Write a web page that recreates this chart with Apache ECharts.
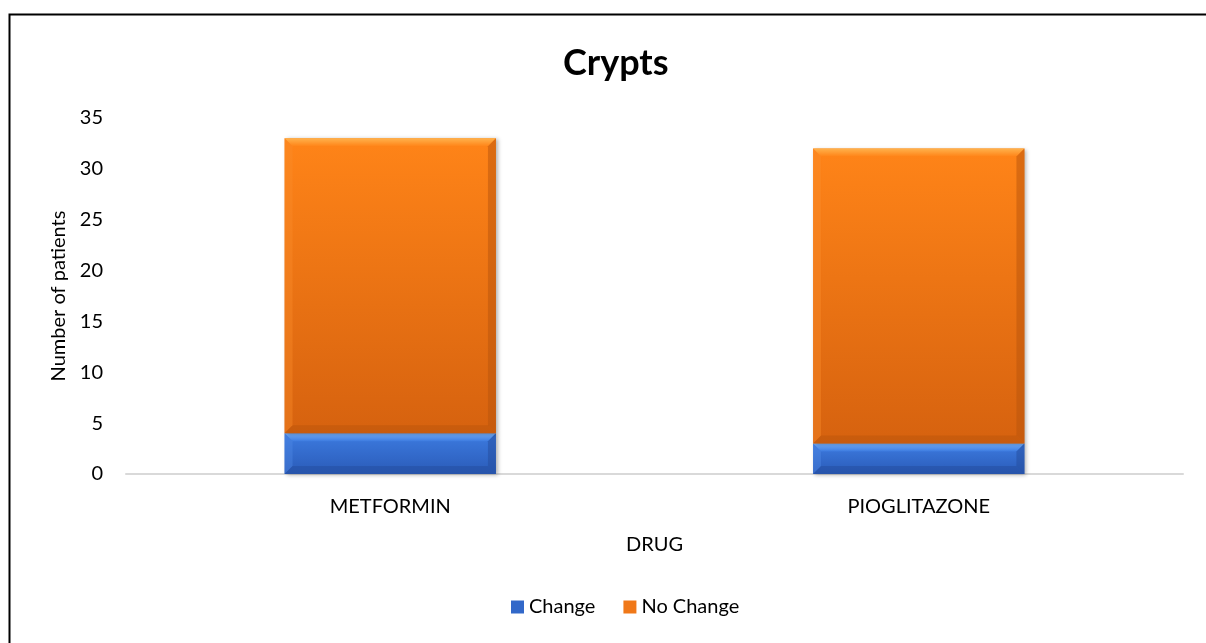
<!DOCTYPE html>
<html>
<head>
<meta charset="utf-8">
<title>Crypts</title>
<script src="https://cdn.jsdelivr.net/npm/echarts@6/dist/echarts.min.js"></script>
<style>
  html, body { margin: 0; padding: 0; background: #fff; }
  #chart { width: 1206px; height: 643px; }
</style>
</head>
<body>
<div id="chart"></div>
<script>
// Patients per drug, split by crypt outcome
const drugs = ['METFORMIN', 'PIOGLITAZONE'];
const changeCounts = [4, 3];
const noChangeCounts = [29, 29];
const yTicks = [0, 5, 10, 15, 20, 25, 30, 35];

const FONT = 'Lato, "Open Sans", sans-serif';

const palette = {
  'Change': { top: '#3d7be0', bottom: '#2a5bb8', light: '#74aef7', side: '#4f8ae6', dark: '#234c9c' },
  'No Change': { top: '#ff8418', bottom: '#d6620f', light: '#ffb24c', side: '#f98c2a', dark: '#b8540c' }
};

function grad(c1, c2) {
  return new echarts.graphic.LinearGradient(0, 0, 0, 1, [
    { offset: 0, color: c1 }, { offset: 1, color: c2 }
  ]);
}

// Bevelled bar segment drawn through the category / value axes
function bevelBar(name) {
  const p = palette[name];
  return function (params, api) {
    const cat = api.value(0);
    const lo = api.coord([cat, api.value(1)]);
    const hi = api.coord([cat, api.value(2)]);
    const w = api.size([1, 0])[0] * 0.4;
    const x0 = lo[0] - w / 2, x1 = lo[0] + w / 2;
    const y0 = hi[1], y1 = lo[1];
    const h = y1 - y0;
    const b = Math.min(8, h / 3);
    return {
      type: 'group',
      children: [
        { type: 'rect', shape: { x: x0, y: y0, width: w, height: h },
          style: { fill: grad(p.top, p.bottom), shadowBlur: 4, shadowOffsetX: 2, shadowOffsetY: 1, shadowColor: 'rgba(0,0,0,0.3)' } },
        { type: 'polygon', shape: { points: [[x0, y0], [x1, y0], [x1 - b, y0 + b], [x0 + b, y0 + b]] },
          style: { fill: grad(p.light, p.top) } },
        { type: 'polygon', shape: { points: [[x0, y0], [x0 + b, y0 + b], [x0 + b, y1 - b], [x0, y1]] },
          style: { fill: p.side, opacity: 0.4 } },
        { type: 'polygon', shape: { points: [[x1, y0], [x1, y1], [x1 - b, y1 - b], [x1 - b, y0 + b]] },
          style: { fill: p.dark, opacity: 0.5 } },
        { type: 'polygon', shape: { points: [[x0, y1], [x0 + b, y1 - b], [x1 - b, y1 - b], [x1, y1]] },
          style: { fill: p.dark, opacity: 0.45 } }
      ]
    };
  };
}

const changeData = drugs.map((d, i) => [i, 0, changeCounts[i]]);
const noChangeData = drugs.map((d, i) => [i, changeCounts[i], changeCounts[i] + noChangeCounts[i]]);

const chart = echarts.init(document.getElementById('chart'), null, { renderer: 'canvas' });
chart.setOption({
  backgroundColor: '#fff',
  animation: false,
  title: {
    text: 'Crypts', left: 558, top: 40,
    textStyle: { fontFamily: FONT, fontSize: 36, fontWeight: 'bold', color: '#000' }
  },
  legend: {
    bottom: 21, left: 506, itemWidth: 13, itemHeight: 13, itemGap: 28,
    icon: 'rect',
    textStyle: { fontFamily: FONT, fontSize: 20, color: '#000' },
    data: ['Change', 'No Change']
  },
  grid: { left: 126, right: 23, top: 118, bottom: 169, containLabel: false },
  xAxis: {
    type: 'category', data: drugs,
    name: 'DRUG', nameLocation: 'middle', nameGap: 61,
    nameTextStyle: { fontFamily: FONT, fontSize: 20, color: '#000' },
    axisLine: { lineStyle: { color: '#d9d9d9', width: 2 } },
    axisTick: { show: false },
    axisLabel: { fontFamily: FONT, fontSize: 20, color: '#000', margin: 23 }
  },
  yAxis: {
    type: 'value', min: yTicks[0], max: yTicks[yTicks.length - 1], interval: yTicks[1] - yTicks[0],
    name: 'Number of patients', nameLocation: 'middle', nameGap: 54,
    nameTextStyle: { fontFamily: FONT, fontSize: 20, color: '#000' },
    axisLine: { show: false }, axisTick: { show: false },
    splitLine: { show: false },
    axisLabel: { fontFamily: FONT, fontSize: 20, color: '#000', margin: 23 }
  },
  series: [
    { name: 'Change', type: 'custom', renderItem: bevelBar('Change'), encode: { x: 0, y: [1, 2] },
      itemStyle: { color: '#3268c9' }, data: changeData },
    { name: 'No Change', type: 'custom', renderItem: bevelBar('No Change'), encode: { x: 0, y: [1, 2] },
      itemStyle: { color: '#f07818' }, data: noChangeData }
  ],
  graphic: [
    { type: 'rect', left: 7, top: 12, silent: true,
      shape: { width: 1400, height: 800 },
      style: { fill: 'none', stroke: '#000', lineWidth: 2 } }
  ]
});
</script>
</body>
</html>
